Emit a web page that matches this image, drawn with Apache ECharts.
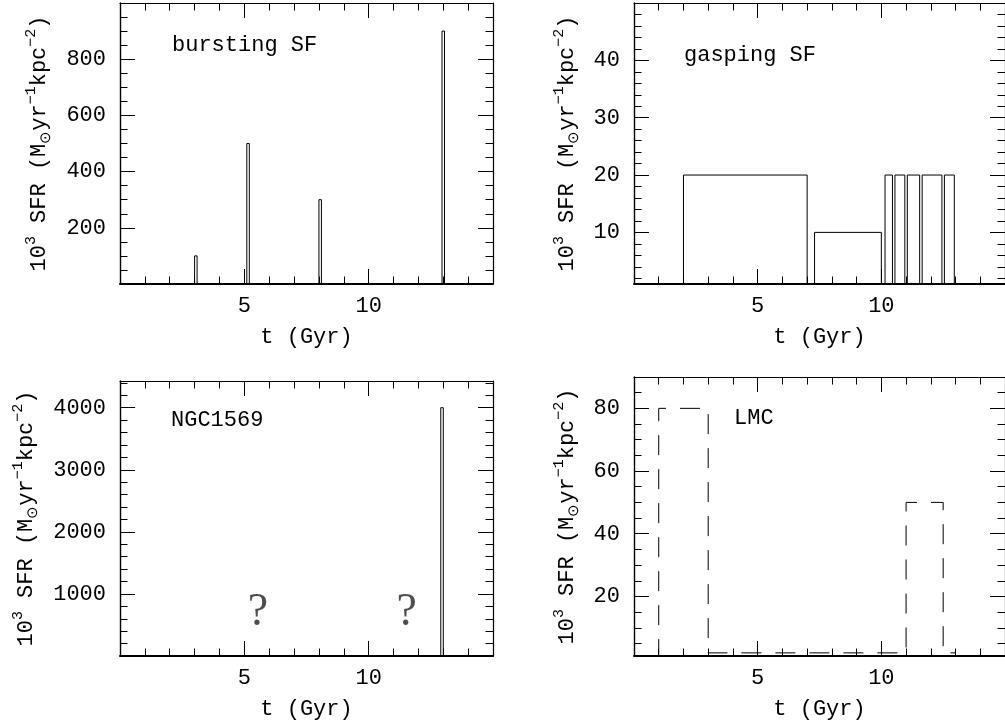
<!DOCTYPE html>
<html><head><meta charset="utf-8">
<script src="https://cdn.jsdelivr.net/npm/echarts@6/dist/echarts.min.js"></script>
<style>html,body{margin:0;padding:0;background:#fff}#c{width:1005px;height:723px}</style>
</head><body><div id="c"></div><script>
// ---------------- data ----------------
// bursting SF: narrow bursts (start, end in Gyr; SFR in 10^3 Msun/yr/kpc^2)
const burstStart = [3.0, 5.1, 8.0, 12.95];
const burstEnd   = [3.1, 5.2, 8.1, 13.05];
const burstSFR   = [100, 500, 300, 900];

// gasping SF
const gaspStart = [2.0, 7.3, 10.15, 10.55, 11.05, 11.65, 12.55];
const gaspEnd   = [7.0, 10.0, 10.45, 10.95, 11.55, 12.45, 12.95];
const gaspSFR   = [20, 10, 20, 20, 20, 20, 20];

// NGC1569
const ngcStart = [12.9];
const ngcEnd   = [13.0];
const ngcSFR   = [4000];
const unknownT   = [5.55, 11.53];
const unknownSFR = [700, 700];

// LMC (step history, dashed)
const lmcEdges = [1, 3, 11, 12.5, 13];
const lmcSFR   = [80, 2, 50, 2];

// axes
const xMajor = [5, 10];
const yMajor1 = [200, 400, 600, 800];
const yMajor2 = [10, 20, 30, 40];
const yMajor3 = [1000, 2000, 3000, 4000];
const yMajor4 = [20, 40, 60, 80];
const titles = ['bursting SF', 'gasping SF', 'NGC1569', 'LMC'];
const xName = 't (Gyr)';

// ---------------- layout ----------------
const FONT = 'Liberation Mono';
const FS = 22;
const panels = [
  {grid:{left:120, top:3,   width:373, height:281}, yMin:0, yMax:1000, yMajor:yMajor1, yStep:50,  yGap:66, title:[172,46]},
  {grid:{left:634, top:3,   width:375, height:281}, yMin:1, yMax:50,   yMajor:yMajor2, yStep:2,   yGap:52, title:[684,56]},
  {grid:{left:120, top:381, width:373, height:275}, yMin:0, yMax:4430, yMajor:yMajor3, yStep:200, yGap:79, title:[171,421]},
  {grid:{left:634, top:377, width:375, height:279}, yMin:1, yMax:90,   yMajor:yMajor4, yStep:5,   yGap:52, title:[734,419]}
];

function minors(lo, hi, step, majors) {
  const out = [];
  for (let v = step; v < hi - 1e-9; v += step) {
    const r = Math.round(v * 1000) / 1000;
    if (r > lo && majors.indexOf(r) < 0) out.push(r);
  }
  return out;
}
const xMinor = minors(0, 15, 1, xMajor);

const txt = {fontFamily: FONT, fontSize: FS, color: '#000'};
const plain = v => String(v);
const yName = '{n|10}{sup|3}{n| SFR (M}{sub|\u2299}{n|yr}{sup|\u22121}{n|kpc}{sup|\u22122}{n|)}';
const rich = {
  n:   {fontFamily: FONT, fontSize: FS, color: '#000', lineHeight: 30},
  sup: {fontFamily: FONT, fontSize: 15, color: '#000', verticalAlign: 'top', lineHeight: 30},
  sub: {fontFamily: FONT, fontSize: 15, color: '#000', verticalAlign: 'bottom', lineHeight: 30}
};

const grids = [], xAxes = [], yAxes = [], series = [], graphics = [];

panels.forEach((p, i) => {
  grids.push(Object.assign({containLabel: false}, p.grid));
  const yMinor = minors(p.yMin, p.yMax, p.yStep, p.yMajor);
  const baseX = {type: 'value', gridIndex: i, min: 0, max: 15, splitLine: {show: false}};
  const baseY = {type: 'value', gridIndex: i, min: p.yMin, max: p.yMax, splitLine: {show: false}};
  const tick = (vals, len) => ({show: true, inside: true, length: len, customValues: vals, lineStyle: {color: '#000', width: 1}});
  // x axes: bottom major, bottom minor, top major, top minor
  xAxes.push(Object.assign({}, baseX, {position: 'bottom',
    axisLine: {show: true, onZero: false, lineStyle: {color: '#000', width: 2}},
    axisTick: tick(xMajor, 15),
    axisLabel: Object.assign({show: true, customValues: xMajor, margin: 11, formatter: plain}, txt),
    name: xName, nameLocation: 'middle', nameGap: 42, nameTextStyle: txt}));
  xAxes.push(Object.assign({}, baseX, {position: 'bottom', axisLine: {show: false, onZero: false},
    axisTick: tick(xMinor, 7.5), axisLabel: {show: false}}));
  xAxes.push(Object.assign({}, baseX, {position: 'top',
    axisLine: {show: true, onZero: false, lineStyle: {color: '#000', width: 1.2}},
    axisTick: tick(xMajor, 15), axisLabel: {show: false}}));
  xAxes.push(Object.assign({}, baseX, {position: 'top', axisLine: {show: false, onZero: false},
    axisTick: tick(xMinor, 7.5), axisLabel: {show: false}}));
  // y axes: left major, left minor, right major, right minor
  yAxes.push(Object.assign({}, baseY, {position: 'left',
    axisLine: {show: true, onZero: false, lineStyle: {color: '#000', width: 1.4}},
    axisTick: tick(p.yMajor, 15),
    axisLabel: Object.assign({show: true, customValues: p.yMajor, margin: 14, formatter: plain}, txt),
    name: yName, nameLocation: 'middle', nameRotate: 90, nameGap: p.yGap,
    nameTextStyle: Object.assign({rich: rich}, txt)}));
  yAxes.push(Object.assign({}, baseY, {position: 'left', axisLine: {show: false, onZero: false},
    axisTick: tick(yMinor, 7.5), axisLabel: {show: false}}));
  yAxes.push(Object.assign({}, baseY, {position: 'right',
    axisLine: {show: true, onZero: false, lineStyle: {color: '#000', width: 1.2}},
    axisTick: tick(p.yMajor, 15), axisLabel: {show: false}}));
  yAxes.push(Object.assign({}, baseY, {position: 'right', axisLine: {show: false, onZero: false},
    axisTick: tick(yMinor, 7.5), axisLabel: {show: false}}));

  graphics.push({type: 'text', left: p.title[0], top: p.title[1] - 12,
    style: {text: titles[i], font: FS + 'px "' + FONT + '"', fill: '#000'}});
});

function rectSeries(panel, starts, ends, vals) {
  starts.forEach((s, k) => {
    series.push({type: 'line', xAxisIndex: 4 * panel, yAxisIndex: 4 * panel,
      data: [[s, 0], [s, vals[k]], [ends[k], vals[k]], [ends[k], 0]],
      symbol: 'none', clip: true, silent: true, animation: false,
      lineStyle: {color: '#000', width: 1}});
  });
}
rectSeries(0, burstStart, burstEnd, burstSFR);
rectSeries(1, gaspStart, gaspEnd, gaspSFR);
rectSeries(2, ngcStart, ngcEnd, ngcSFR);

// LMC step path
const lmcPath = [[lmcEdges[0], 0]];
lmcSFR.forEach((v, j) => { lmcPath.push([lmcEdges[j], v]); lmcPath.push([lmcEdges[j + 1], v]); });
series.push({type: 'line', xAxisIndex: 12, yAxisIndex: 12, data: lmcPath,
  symbol: 'none', clip: true, silent: true, animation: false,
  lineStyle: {color: '#000', width: 1, type: [20, 14]}});

// question marks for NGC1569
series.push({type: 'scatter', xAxisIndex: 8, yAxisIndex: 8,
  data: unknownT.map((t, k) => [t, unknownSFR[k]]),
  symbol: 'circle', symbolSize: 2, itemStyle: {color: 'rgba(0,0,0,0)'}, silent: true, animation: false,
  label: {show: true, position: 'inside', formatter: '?', fontFamily: 'Liberation Serif', fontSize: 46, color: '#222'},
  labelLayout: {hideOverlap: false}});

const chart = echarts.init(document.getElementById('c'), null, {renderer: 'canvas'});
chart.setOption({
  backgroundColor: '#fff', animation: false,
  grid: grids, xAxis: xAxes, yAxis: yAxes, series: series, graphic: graphics
});
</script></body></html>
